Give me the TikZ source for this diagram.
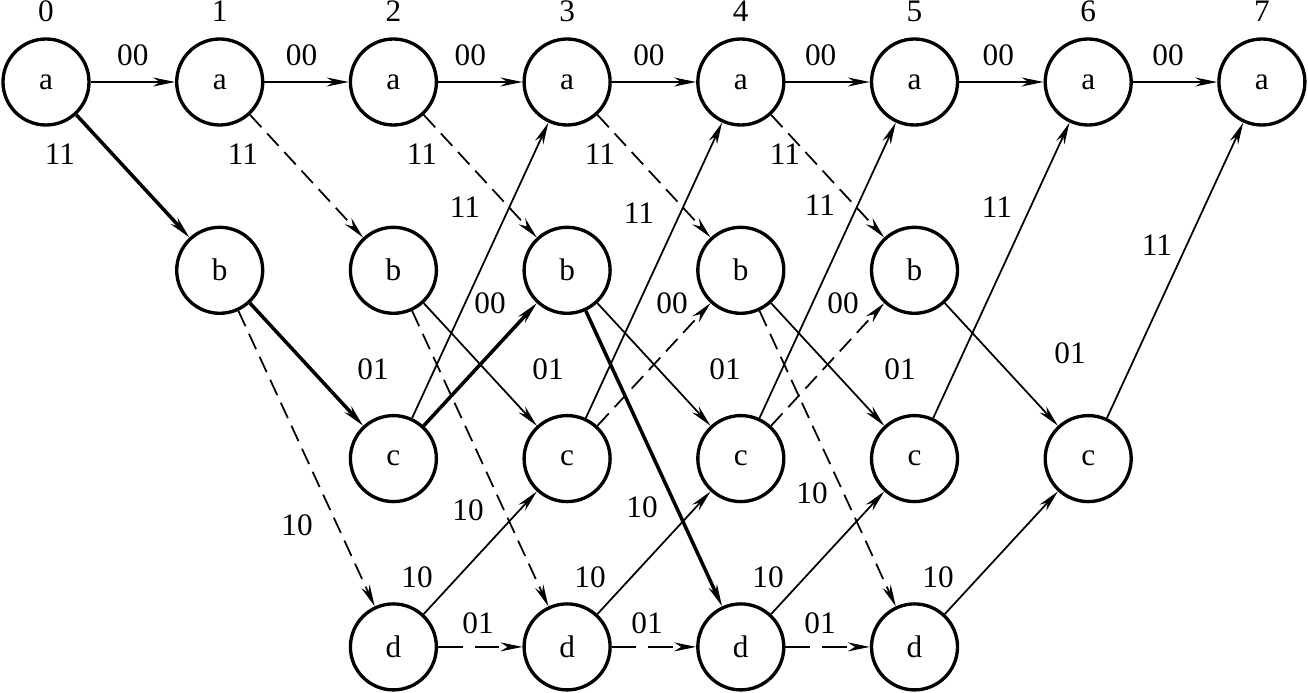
\documentclass[tikz,border=0pt]{standalone}
\usepackage{fontspec}
\setmainfont{Liberation Serif}
\usetikzlibrary{arrows.meta}

\tikzset{
  st/.style={circle, draw, line width=0.95pt, minimum size=0.86cm, inner sep=0pt},
  lbl/.style={inner sep=0pt},
  br/.style={line width=0.5pt, -{Stealth[length=2.2mm,width=0.9mm,inset=0.7mm]}},
  surv/.style={br, line width=1pt},
  dbr/.style={br, dash pattern=on 4.8pt off 2.4pt},
  ddbr/.style={br, dash pattern=on 7pt off 3.4pt},
}

\begin{document}
\begin{tikzpicture}[font=\fontsize{8.9}{10}\selectfont]

  \def\cw{1.737}   % column width
  \def\rh{1.883}   % row height

  \useasboundingbox (-0.46,0.82) rectangle (12.62,-6.11);

  % time indices
  \node[lbl] (t0) at (0,0.71) {0};
  \node[lbl] (t1) at ({\cw},0.71) {1};
  \node[lbl] (t2) at ({2*\cw},0.71) {2};
  \node[lbl] (t3) at ({3*\cw},0.71) {3};
  \node[lbl] (t4) at ({4*\cw},0.71) {4};
  \node[lbl] (t5) at ({5*\cw},0.71) {5};
  \node[lbl] (t6) at ({6*\cw},0.71) {6};
  \node[lbl] (t7) at ({7*\cw},0.71) {7};

  % states a
  \node[st] (a0) at (0,0) {a};
  \node[st] (a1) at ({\cw},0) {a};
  \node[st] (a2) at ({2*\cw},0) {a};
  \node[st] (a3) at ({3*\cw},0) {a};
  \node[st] (a4) at ({4*\cw},0) {a};
  \node[st] (a5) at ({5*\cw},0) {a};
  \node[st] (a6) at ({6*\cw},0) {a};
  \node[st] (a7) at ({7*\cw},0) {a};

  % states b
  \node[st] (b1) at ({\cw},{-\rh}) {b};
  \node[st] (b2) at ({2*\cw},{-\rh}) {b};
  \node[st] (b3) at ({3*\cw},{-\rh}) {b};
  \node[st] (b4) at ({4*\cw},{-\rh}) {b};
  \node[st] (b5) at ({5*\cw},{-\rh}) {b};

  % states c
  \node[st] (c2) at ({2*\cw},{-2*\rh}) {c};
  \node[st] (c3) at ({3*\cw},{-2*\rh}) {c};
  \node[st] (c4) at ({4*\cw},{-2*\rh}) {c};
  \node[st] (c5) at ({5*\cw},{-2*\rh}) {c};
  \node[st] (c6) at ({6*\cw},{-2*\rh}) {c};

  % states d
  \node[st] (d2) at ({2*\cw},{-3*\rh}) {d};
  \node[st] (d3) at ({3*\cw},{-3*\rh}) {d};
  \node[st] (d4) at ({4*\cw},{-3*\rh}) {d};
  \node[st] (d5) at ({5*\cw},{-3*\rh}) {d};

  % 0 -> 1
  \draw[br] (a0) -- (a1);
  \draw[surv] (a0) -- (b1);
  % 1 -> 2
  \draw[br] (a1) -- (a2);
  \draw[dbr] (a1) -- (b2);
  \draw[surv] (b1) -- (c2);
  \draw[dbr] (b1) -- (d2);
  % 2 -> 3
  \draw[br] (a2) -- (a3);
  \draw[dbr] (a2) -- (b3);
  \draw[br] (b2) -- (c3);
  \draw[dbr] (b2) -- (d3);
  \draw[br] (c2) -- (a3);
  \draw[surv] (c2) -- (b3);
  \draw[br] (d2) -- (c3);
  \draw[ddbr] (d2) -- (d3);
  % 3 -> 4
  \draw[br] (a3) -- (a4);
  \draw[dbr] (a3) -- (b4);
  \draw[br] (b3) -- (c4);
  \draw[surv] (b3) -- (d4);
  \draw[br] (c3) -- (a4);
  \draw[dbr] (c3) -- (b4);
  \draw[br] (d3) -- (c4);
  \draw[ddbr] (d3) -- (d4);
  % 4 -> 5
  \draw[br] (a4) -- (a5);
  \draw[dbr] (a4) -- (b5);
  \draw[br] (b4) -- (c5);
  \draw[dbr] (b4) -- (d5);
  \draw[br] (c4) -- (a5);
  \draw[dbr] (c4) -- (b5);
  \draw[br] (d4) -- (c5);
  \draw[ddbr] (d4) -- (d5);
  % 5 -> 6
  \draw[br] (a5) -- (a6);
  \draw[br] (b5) -- (c6);
  \draw[br] (c5) -- (a6);
  \draw[br] (d5) -- (c6);
  % 6 -> 7
  \draw[br] (a6) -- (a7);
  \draw[br] (c6) -- (a7);

  % outputs a -> a
  \node[lbl] (la0a1) at ({0.5*\cw},0.27) {00};
  \node[lbl] (la1a2) at ({1.5*\cw-0.05},0.27) {00};
  \node[lbl] (la2a3) at ({2.5*\cw-0.1},0.27) {00};
  \node[lbl] (la3a4) at ({3.5*\cw-0.05},0.27) {00};
  \node[lbl] (la4a5) at ({4.5*\cw-0.07},0.27) {00};
  \node[lbl] (la5a6) at ({5.5*\cw-0.03},0.27) {00};
  \node[lbl] (la6a7) at ({6.5*\cw-0.07},0.27) {00};

  % outputs a -> b
  \node[lbl] (la0b1) at (0.14,-0.72) {11};
  \node[lbl] (la1b2) at (1.97,-0.72) {11};
  \node[lbl] (la2b3) at (3.76,-0.72) {11};
  \node[lbl] (la3b4) at (5.54,-0.72) {11};
  \node[lbl] (la4b5) at (7.39,-0.72) {11};

  % outputs c -> a
  \node[lbl] (lc2a3) at (4.19,-1.25) {11};
  \node[lbl] (lc3a4) at (5.93,-1.31) {11};
  \node[lbl] (lc4a5) at (7.74,-1.23) {11};
  \node[lbl] (lc5a6) at (9.51,-1.25) {11};
  \node[lbl] (lc6a7) at (11.11,-1.63) {11};

  % outputs c -> b
  \node[lbl] (lc2b3) at (4.44,-2.21) {00};
  \node[lbl] (lc3b4) at (6.26,-2.21) {00};
  \node[lbl] (lc4b5) at (7.97,-2.21) {00};

  % outputs b -> c
  \node[lbl] (lb1c2) at (3.27,-2.87) {01};
  \node[lbl] (lb2c3) at (5.02,-2.87) {01};
  \node[lbl] (lb3c4) at (6.79,-2.87) {01};
  \node[lbl] (lb4c5) at (8.54,-2.87) {01};
  \node[lbl] (lb5c6) at (10.24,-2.71) {01};

  % outputs b -> d
  \node[lbl] (lb1d2) at (2.51,-4.43) {10};
  \node[lbl] (lb2d3) at (4.22,-4.28) {10};
  \node[lbl] (lb3d4) at (5.96,-4.25) {10};
  \node[lbl] (lb4d5) at (7.66,-4.11) {10};

  % outputs d -> c
  \node[lbl] (ld2c3) at (3.71,-4.95) {10};
  \node[lbl] (ld3c4) at (5.44,-4.95) {10};
  \node[lbl] (ld4c5) at (7.22,-4.95) {10};
  \node[lbl] (ld5c6) at (8.92,-4.95) {10};

  % outputs d -> d
  \node[lbl] (ld2d3) at (4.32,-5.41) {01};
  \node[lbl] (ld3d4) at (6.01,-5.41) {01};
  \node[lbl] (ld4d5) at (7.74,-5.41) {01};

\end{tikzpicture}
\end{document}
